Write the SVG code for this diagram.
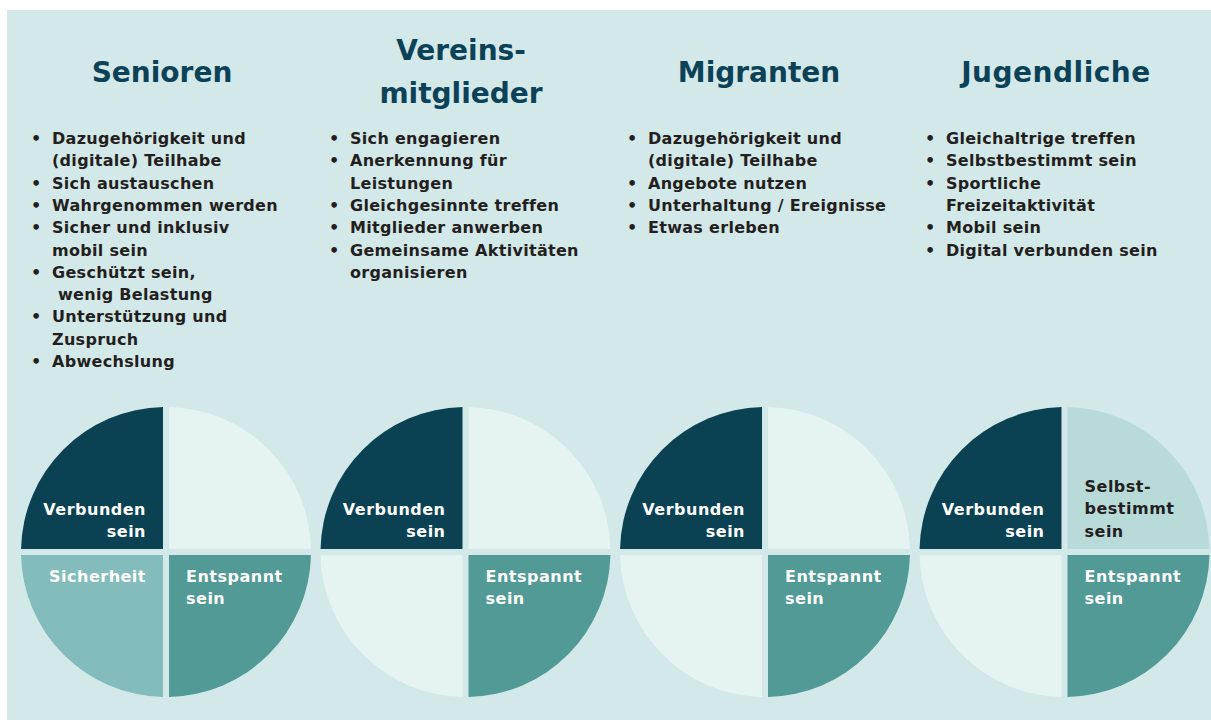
<svg xmlns="http://www.w3.org/2000/svg" width="1211" height="720" viewBox="0 0 1211 720">
<style>
.title{font-family:"DejaVu Sans",sans-serif;font-weight:bold;font-size:28px;fill:#0b4257;text-anchor:middle}
.li{font-family:"DejaVu Sans",sans-serif;font-weight:bold;font-size:16px;letter-spacing:0.3px;fill:#231f20}
.q{font-family:"DejaVu Sans",sans-serif;font-weight:bold;font-size:16px;letter-spacing:0.5px;fill:#ffffff}
.qd{fill:#231f20}
.end{text-anchor:end}
.dark{fill:#0a4254}
.light{fill:#e6f3f3}
.mid{fill:#519a96}
.sich{fill:#82bdbc}
.selb{fill:#b8dbda}
</style>
<defs>
<path id="tl" d="M -3,-3 V -144.97 A 145 145 0 0 0 -144.97,-3 Z"/>
<path id="tr" d="M 3,-3 V -144.97 A 145 145 0 0 1 144.97,-3 Z"/>
<path id="bl" d="M -3,3 V 144.97 A 145 145 0 0 1 -144.97,3 Z"/>
<path id="br" d="M 3,3 V 144.97 A 145 145 0 0 0 144.97,3 Z"/>
</defs>
<rect x="7" y="10" width="1204" height="710" fill="#d3e8e9"/>

<g id="senioren">
<text class="title" x="162" y="82">Senioren</text>
<g class="li">
<text x="31" y="144">•</text><text x="52" y="144">Dazugehörigkeit und</text>
<text x="52" y="166.3">(digitale) Teilhabe</text>
<text x="31" y="188.6">•</text><text x="52" y="188.6">Sich austauschen</text>
<text x="31" y="210.9">•</text><text x="52" y="210.9">Wahrgenommen werden</text>
<text x="31" y="233.2">•</text><text x="52" y="233.2">Sicher und inklusiv</text>
<text x="52" y="255.5">mobil sein</text>
<text x="31" y="277.8">•</text><text x="52" y="277.8">Geschützt sein,</text>
<text x="58" y="300.1">wenig Belastung</text>
<text x="31" y="322.4">•</text><text x="52" y="322.4">Unterstützung und</text>
<text x="52" y="344.7">Zuspruch</text>
<text x="31" y="367">•</text><text x="52" y="367">Abwechslung</text>
</g>
<g transform="translate(166,552)">
<use href="#tl" class="dark"/><use href="#tr" class="light"/><use href="#bl" class="sich"/><use href="#br" class="mid"/>
<text class="q end" x="-20" y="-37">Verbunden</text>
<text class="q end" x="-20" y="-15">sein</text>
<text class="q end" x="-20" y="30">Sicherheit</text>
<text class="q" x="20" y="30">Entspannt</text>
<text class="q" x="20" y="52">sein</text>
</g>
</g>

<g id="vereinsmitglieder">
<text class="title" x="461" y="60">Vereins-</text>
<text class="title" x="461" y="103">mitglieder</text>
<g class="li">
<text x="329" y="144">•</text><text x="350" y="144">Sich engagieren</text>
<text x="329" y="166.3">•</text><text x="350" y="166.3">Anerkennung für</text>
<text x="350" y="188.6">Leistungen</text>
<text x="329" y="210.9">•</text><text x="350" y="210.9">Gleichgesinnte treffen</text>
<text x="329" y="233.2">•</text><text x="350" y="233.2">Mitglieder anwerben</text>
<text x="329" y="255.5">•</text><text x="350" y="255.5">Gemeinsame Aktivitäten</text>
<text x="350" y="277.8">organisieren</text>
</g>
<g transform="translate(465.5,552)">
<use href="#tl" class="dark"/><use href="#tr" class="light"/><use href="#bl" class="light"/><use href="#br" class="mid"/>
<text class="q end" x="-20" y="-37">Verbunden</text>
<text class="q end" x="-20" y="-15">sein</text>
<text class="q" x="20" y="30">Entspannt</text>
<text class="q" x="20" y="52">sein</text>
</g>
</g>

<g id="migranten">
<text class="title" x="759" y="82">Migranten</text>
<g class="li">
<text x="627" y="144">•</text><text x="648" y="144">Dazugehörigkeit und</text>
<text x="648" y="166.3">(digitale) Teilhabe</text>
<text x="627" y="188.6">•</text><text x="648" y="188.6">Angebote nutzen</text>
<text x="627" y="210.9">•</text><text x="648" y="210.9">Unterhaltung / Ereignisse</text>
<text x="627" y="233.2">•</text><text x="648" y="233.2">Etwas erleben</text>
</g>
<g transform="translate(765,552)">
<use href="#tl" class="dark"/><use href="#tr" class="light"/><use href="#bl" class="light"/><use href="#br" class="mid"/>
<text class="q end" x="-20" y="-37">Verbunden</text>
<text class="q end" x="-20" y="-15">sein</text>
<text class="q" x="20" y="30">Entspannt</text>
<text class="q" x="20" y="52">sein</text>
</g>
</g>

<g id="jugendliche">
<text class="title" x="1056" y="82" style="letter-spacing:0.5px">Jugendliche</text>
<g class="li">
<text x="925" y="144">•</text><text x="946" y="144">Gleichaltrige treffen</text>
<text x="925" y="166.3">•</text><text x="946" y="166.3">Selbstbestimmt sein</text>
<text x="925" y="188.6">•</text><text x="946" y="188.6">Sportliche</text>
<text x="946" y="210.9">Freizeitaktivität</text>
<text x="925" y="233.2">•</text><text x="946" y="233.2">Mobil sein</text>
<text x="925" y="255.5">•</text><text x="946" y="255.5">Digital verbunden sein</text>
</g>
<g transform="translate(1064.5,552)">
<use href="#tl" class="dark"/><use href="#tr" class="selb"/><use href="#bl" class="light"/><use href="#br" class="mid"/>
<text class="q end" x="-20" y="-37">Verbunden</text>
<text class="q end" x="-20" y="-15">sein</text>
<text class="q qd" x="20" y="-60">Selbst-</text>
<text class="q qd" x="20" y="-38">bestimmt</text>
<text class="q qd" x="20" y="-15">sein</text>
<text class="q" x="20" y="30">Entspannt</text>
<text class="q" x="20" y="52">sein</text>
</g>
</g>
<g id="connectors"/>
</svg>
